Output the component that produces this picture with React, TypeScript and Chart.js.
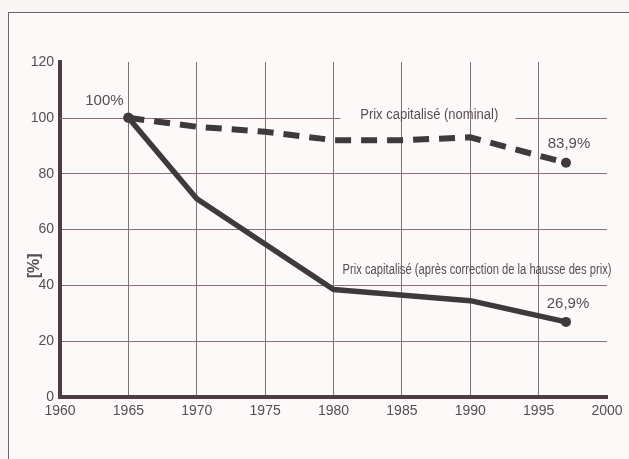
import React, { useEffect, useRef } from "react";
import { Chart, registerables } from "chart.js";

Chart.register(...registerables);

const xTicks = [1960, 1965, 1970, 1975, 1980, 1985, 1990, 1995, 2000];
const yTicks = [0, 20, 40, 60, 80, 100, 120];

const nominalYears = [1965, 1970, 1975, 1980, 1985, 1990, 1997];
const nominalValues = [100, 96.8, 95, 92, 92, 93, 83.9];

const realYears = [1965, 1970, 1980, 1990, 1997];
const realValues = [100, 71, 38.5, 34.5, 26.9];

const nominalLabel = "Prix capitalisé (nominal)";
const realLabel = "Prix capitalisé (après correction de la hausse des prix)";
const startLabel = "100%";
const nominalEndLabel = "83,9%";
const realEndLabel = "26,9%";
const yTitle = "[%]";

const GRID = "rgb(138,108,118)";
const AXIS = "rgb(78,60,66)";
const LINE = "rgb(62,57,60)";
const TEXT = "rgb(88,76,80)";
const FONT = "'Liberation Sans', Arial, sans-serif";

function condensedText(ctx: any, text: string, cx: number, cy: number, size: number, target: number) {
  ctx.save();
  ctx.font = `${size}px ${FONT}`;
  const w = ctx.measureText(text).width;
  ctx.translate(cx, cy);
  ctx.scale(Math.min(1, target / w), 1);
  ctx.fillText(text, 0, 0);
  ctx.restore();
}

const annotations = {
  id: "annotations",
  beforeDatasetsDraw(chart: any) {
    const { ctx, scales } = chart;
    const x = scales.x;
    const y = scales.y;
    // 100 gridline, broken around the nominal label
    ctx.save();
    ctx.strokeStyle = GRID;
    ctx.lineWidth = 1;
    const yy = Math.round(y.getPixelForValue(100)) + 0.5;
    ctx.beginPath();
    ctx.moveTo(x.getPixelForValue(1960), yy);
    ctx.lineTo(x.getPixelForValue(1980.5), yy);
    ctx.moveTo(x.getPixelForValue(1993.3), yy);
    ctx.lineTo(x.getPixelForValue(2000), yy);
    ctx.stroke();
    ctx.restore();
  },
  afterDatasetsDraw(chart: any) {
    const { ctx, scales } = chart;
    const x = scales.x;
    const y = scales.y;
    ctx.save();
    ctx.fillStyle = TEXT;
    ctx.textAlign = "center";
    ctx.textBaseline = "middle";
    ctx.font = `15px ${FONT}`;
    const lastN = nominalYears.length - 1;
    const lastR = realYears.length - 1;
    ctx.fillText(startLabel, x.getPixelForValue(nominalYears[0]) - 24, y.getPixelForValue(nominalValues[0]) - 17);
    ctx.fillText(nominalEndLabel, x.getPixelForValue(nominalYears[lastN]) + 3, y.getPixelForValue(nominalValues[lastN]) - 19);
    ctx.fillText(realEndLabel, x.getPixelForValue(realYears[lastR]) + 2, y.getPixelForValue(realValues[lastR]) - 18);
    condensedText(ctx, nominalLabel, x.getPixelForValue(1987), y.getPixelForValue(100) - 3, 14, 138);
    condensedText(ctx, realLabel, x.getPixelForValue(1990.5), y.getPixelForValue(45.5), 14, 269);
    // y title
    ctx.font = `bold 16px ${FONT}`;
    ctx.translate(35, y.getPixelForValue(47));
    ctx.rotate(-Math.PI / 2);
    ctx.fillText(yTitle, 0, 0);
    ctx.restore();
  },
};

export default function App() {
  const ref = useRef<HTMLCanvasElement | null>(null);

  useEffect(() => {
    if (!ref.current) return;
    const endRadius = (n: number) => (c: any) => (c.dataIndex === 0 || c.dataIndex === n - 1 ? 5 : 0);
    const chart = new Chart(ref.current, {
      type: "line",
      data: {
        datasets: [
          {
            label: nominalLabel,
            data: nominalYears.map((yr, i) => ({ x: yr, y: nominalValues[i] })),
            borderColor: LINE,
            backgroundColor: LINE,
            borderWidth: 6,
            borderDash: [16, 10],
            borderCapStyle: "butt",
            pointRadius: endRadius(nominalYears.length) as any,
            pointBorderWidth: 0,
            tension: 0,
          },
          {
            label: realLabel,
            data: realYears.map((yr, i) => ({ x: yr, y: realValues[i] })),
            borderColor: LINE,
            backgroundColor: LINE,
            borderWidth: 5.5,
            borderJoinStyle: "round",
            pointRadius: endRadius(realYears.length) as any,
            pointBorderWidth: 0,
            tension: 0,
          },
        ],
      },
      options: {
        responsive: false,
        animation: false,
        devicePixelRatio: 1,
        layout: { padding: { left: 0, top: 62, right: 22, bottom: 20 } },
        plugins: {
          legend: { display: false },
          tooltip: { enabled: false },
        },
        scales: {
          x: {
            type: "linear",
            min: 1960,
            max: 2000,
            afterBuildTicks: (s: any) => {
              s.ticks = xTicks.map((v) => ({ value: v }));
            },
            afterFit: (s: any) => {
              s.height = 42;
            },
            ticks: {
              color: TEXT,
              font: { family: FONT, size: 14 },
              padding: 6,
              maxRotation: 0,
              autoSkip: false,
              callback: (v: any) => String(v),
            },
            grid: {
              drawTicks: false,
              lineWidth: 1,
              color: (c: any) => (c.tick && (c.tick.value === 1960 || c.tick.value === 2000) ? "rgba(0,0,0,0)" : GRID),
            },
            border: { display: true, color: AXIS, width: 4 },
          },
          y: {
            min: 0,
            max: 120,
            afterBuildTicks: (s: any) => {
              s.ticks = yTicks.map((v) => ({ value: v }));
            },
            afterFit: (s: any) => {
              s.width = 60;
            },
            ticks: {
              color: TEXT,
              font: { family: FONT, size: 14 },
              padding: 6,
              callback: (v: any) => String(v),
            },
            grid: {
              drawTicks: false,
              lineWidth: 1,
              color: (c: any) =>
                c.tick && (c.tick.value === 0 || c.tick.value === 100 || c.tick.value === 120) ? "rgba(0,0,0,0)" : GRID,
            },
            border: { display: true, color: AXIS, width: 4 },
          },
        },
      },
      plugins: [annotations],
    });
    return () => chart.destroy();
  }, []);

  return (
    <div
      style={{
        position: "fixed",
        left: 0,
        top: 0,
        width: 629,
        height: 459,
        overflow: "hidden",
        background: "#f7f6f4",
      }}
    >
      <div
        style={{
          position: "absolute",
          left: 8,
          top: 12,
          width: 700,
          height: 500,
          borderLeft: "1.5px solid rgb(120,95,105)",
          borderTop: "1.5px solid rgb(120,95,105)",
          background: "#fbfaf8",
        }}
      />
      <canvas ref={ref} width={629} height={459} style={{ position: "absolute", left: 0, top: 0 }} />
    </div>
  );
}
